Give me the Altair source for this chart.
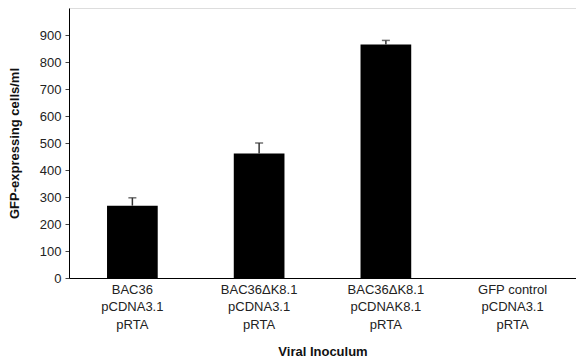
import altair as alt
import pandas as pd

categories = [
    "BAC36|pCDNA3.1|pRTA",
    "BAC36ΔK8.1|pCDNA3.1|pRTA",
    "BAC36ΔK8.1|pCDNAK8.1|pRTA",
    "GFP control|pCDNA3.1|pRTA",
]
values = [268, 461, 865, 0]
errors = [29, 39, 15, 0]
y_ticks = [0, 100, 200, 300, 400, 500, 600, 700, 800, 900]

df = pd.DataFrame({"cat": categories, "value": values, "err": errors})
df["upper"] = df["value"] + df["err"]

FONT = "Liberation Sans"

x_scale = alt.Scale(domain=categories, paddingInner=0.6, paddingOuter=0.3)
y_scale = alt.Scale(domain=[0, 1000], nice=False)

x_axis = alt.Axis(
    title="Viral Inoculum",
    labelExpr="split(datum.label, '|')",
    labelAngle=0,
    labelFont=FONT,
    labelFontSize=13,
    labelColor="#222",
    labelLineHeight=17.5,
    labelPadding=5,
    ticks=False,
    domainColor="#000",
    domainWidth=1,
    titleFont=FONT,
    titleFontSize=13,
    titleFontWeight="bold",
    titleColor="#111",
    titlePadding=14,
)

y_axis = alt.Axis(
    title="GFP-expressing cells/ml",
    values=y_ticks,
    tickCount=10,
    grid=False,
    labelOverlap=False,
    tickSize=4,
    tickColor="#444",
    labelFont=FONT,
    labelFontSize=13,
    labelColor="#222",
    labelPadding=4,
    domainColor="#000",
    domainWidth=1,
    titleFont=FONT,
    titleFontSize=13,
    titleFontWeight="bold",
    titleColor="#111",
    titlePadding=18,
)

bar_df = df[df["value"] > 0]
err_df = df[df["err"] > 0]

bars = alt.Chart(bar_df).mark_bar(color="#000").encode(
    x=alt.X("cat:N", sort=categories, scale=x_scale, axis=x_axis),
    y=alt.Y("value:Q", scale=y_scale, axis=y_axis),
)

rules = alt.Chart(err_df).mark_rule(color="#333", strokeWidth=1.5).encode(
    x=alt.X("cat:N", sort=categories, scale=x_scale, axis=x_axis),
    y=alt.Y("value:Q", scale=y_scale, axis=y_axis),
    y2="upper:Q",
)

caps = alt.Chart(err_df).mark_tick(color="#333", thickness=1.5, size=8).encode(
    x=alt.X("cat:N", sort=categories, scale=x_scale, axis=x_axis),
    y=alt.Y("upper:Q", scale=y_scale, axis=y_axis),
)

chart = (
    alt.layer(bars, rules, caps)
    .properties(width=507, height=270, padding={"left": 0, "top": 0, "right": 0, "bottom": 0})
    .configure_view(stroke=None)
    .configure(background="white")
)

chart.save("out.html", embed_options={"renderer": "svg", "actions": False})
